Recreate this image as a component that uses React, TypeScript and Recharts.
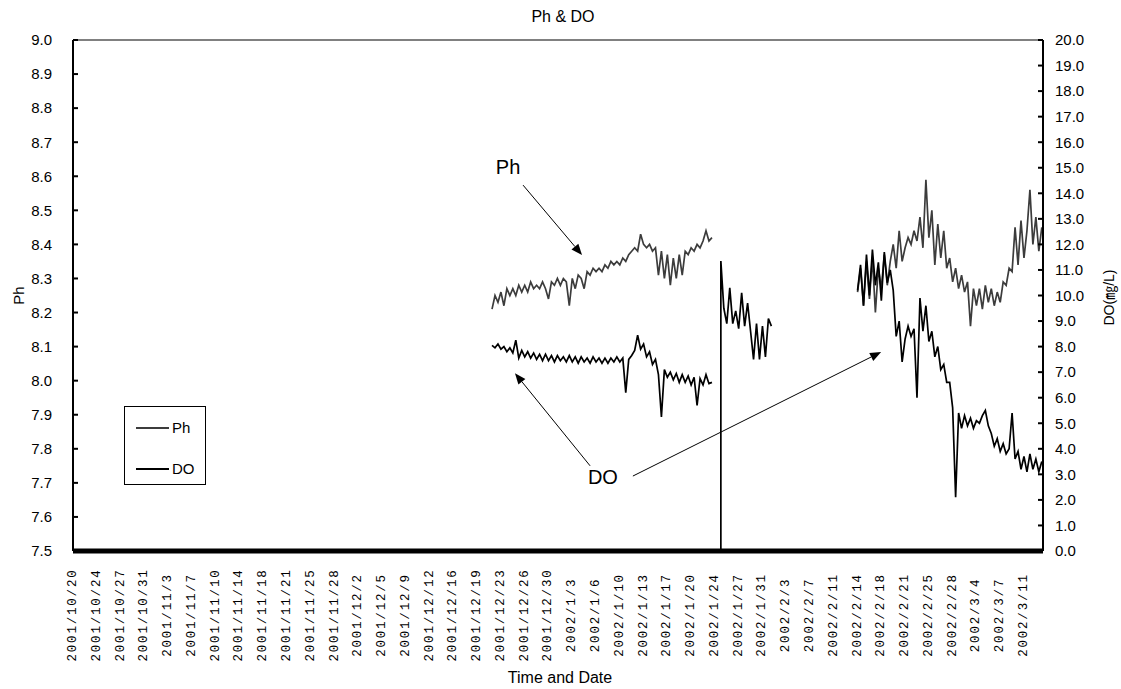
import React from 'react';
import { LineChart, Line, XAxis, YAxis, ReferenceLine, ReferenceDot, Legend } from 'recharts';

const FONT = "'Liberation Sans', Arial, 'Noto Sans CJK JP', sans-serif";

// ---- tick labels (category labels, evenly spaced) ----
const tickLabels = [
  '2001/10/20', '2001/10/24', '2001/10/27', '2001/10/31', '2001/11/3', '2001/11/7',
  '2001/11/10', '2001/11/14', '2001/11/18', '2001/11/21', '2001/11/25', '2001/11/28',
  '2001/12/2', '2001/12/5', '2001/12/9', '2001/12/12', '2001/12/16', '2001/12/19',
  '2001/12/23', '2001/12/26', '2001/12/30', '2002/1/3', '2002/1/6', '2002/1/10',
  '2002/1/13', '2002/1/17', '2002/1/20', '2002/1/24', '2002/1/27', '2002/1/31',
  '2002/2/3', '2002/2/7', '2002/2/11', '2002/2/14', '2002/2/18', '2002/2/21',
  '2002/2/25', '2002/2/28', '2002/3/4', '2002/3/7', '2002/3/11',
];
const phTicks = [7.5, 7.6, 7.7, 7.8, 7.9, 8.0, 8.1, 8.2, 8.3, 8.4, 8.5, 8.6, 8.7, 8.8, 8.9, 9.0];
const doTicks = [0, 1, 2, 3, 4, 5, 6, 7, 8, 9, 10, 11, 12, 13, 14, 15, 16, 17, 18, 19, 20];

// sample spacing, in label intervals
const STEP = 0.125;

// ---- segment 1 (late Dec - Jan 23) ----
const seg1Start = 17.625;
const phSeg1 = [
  8.21, 8.25, 8.23, 8.26, 8.22, 8.27, 8.25, 8.27, 8.25, 8.28,
  8.26, 8.28, 8.26, 8.29, 8.27, 8.28, 8.27, 8.29, 8.27, 8.24,
  8.29, 8.28, 8.30, 8.28, 8.30, 8.29, 8.22, 8.30, 8.27, 8.31,
  8.30, 8.27, 8.32, 8.31, 8.33, 8.32, 8.33, 8.32, 8.34, 8.33,
  8.35, 8.34, 8.35, 8.34, 8.36, 8.35, 8.37, 8.38, 8.39, 8.38,
  8.43, 8.40, 8.39, 8.40, 8.38, 8.39, 8.31, 8.38, 8.30, 8.37,
  8.28, 8.36, 8.30, 8.37, 8.31, 8.38, 8.37, 8.39, 8.38, 8.40,
  8.39, 8.41, 8.44, 8.41, 8.42,
];
const doSeg1 = [
  8.05, 7.95, 8.10, 7.90, 8.00, 7.80, 7.95, 7.75, 8.25, 7.55,
  7.85, 7.60, 7.80, 7.55, 7.75, 7.50, 7.70, 7.45, 7.70, 7.45,
  7.65, 7.40, 7.65, 7.45, 7.60, 7.40, 7.65, 7.40, 7.60, 7.35,
  7.60, 7.40, 7.55, 7.35, 7.60, 7.40, 7.55, 7.35, 7.55, 7.35,
  7.55, 7.40, 7.60, 7.40, 7.55, 6.20, 7.50, 7.65, 7.85, 8.45,
  7.90, 8.10, 7.60, 7.80, 7.30, 7.50, 6.90, 5.25, 7.10, 6.80,
  7.00, 6.70, 6.95, 6.60, 6.90, 6.60, 6.85, 6.50, 6.80, 5.70,
  6.75, 6.50, 6.90, 6.55, 6.60,
];

// ---- segment 2 (Jan 24 - Jan 31), DO only ----
const seg2Start = 27.25;
const doSeg2Lead = 0;
const doSeg2 = [
  11.35, 9.5, 8.9, 10.3, 8.9, 9.4, 8.7, 10.1, 8.8, 9.7,
  8.6, 7.5, 8.9, 7.5, 8.8, 7.6, 9.1, 8.8,
];

// ---- segment 3 (Feb 14 - Mar 14) ----
const seg3Start = 33.0;
const phSeg3 = [
  8.26, 8.33, 8.22, 8.35, 8.24, 8.36, 8.20, 8.33, 8.27, 8.37,
  8.28, 8.35, 8.40, 8.33, 8.44, 8.35, 8.39, 8.42, 8.40, 8.44,
  8.41, 8.48, 8.39, 8.59, 8.42, 8.50, 8.34, 8.46, 8.36, 8.44,
  8.33, 8.36, 8.29, 8.33, 8.27, 8.31, 8.26, 8.29, 8.16, 8.27,
  8.22, 8.27, 8.21, 8.28, 8.23, 8.27, 8.22, 8.26, 8.23, 8.29,
  8.28, 8.33, 8.32, 8.45, 8.34, 8.47, 8.36, 8.44, 8.56, 8.40,
  8.48, 8.38, 8.45,
];
const doSeg3 = [
  10.2, 11.2, 9.6, 11.6, 10.0, 11.8, 10.4, 11.3, 9.8, 11.7,
  10.5, 11.0, 10.2, 8.4, 9.0, 7.4, 8.3, 8.8, 8.4, 8.7,
  6.0, 9.9, 8.6, 9.6, 8.2, 8.6, 7.6, 8.0, 7.1, 7.3,
  6.6, 6.6, 5.6, 2.1, 5.4, 4.8, 5.3, 4.9, 5.2, 4.8,
  5.1, 5.0, 5.3, 5.5, 4.9, 4.6, 4.1, 4.4, 3.9, 4.2,
  3.8, 4.0, 5.4, 3.6, 3.9, 3.2, 3.7, 3.1, 3.8, 3.2,
  3.6, 3.1, 3.5,
];

// ---- annotations (data units: label index, pH) ----
const annotationTexts = [
  { text: 'Ph', x: 18.3, y: 8.627 },
  { text: 'DO', x: 22.29, y: 7.717 },
];
const annotationArrows = [
  { from: { x: 18.93, y: 8.574 }, to: { x: 21.41, y: 8.369 } },
  { from: { x: 21.75, y: 7.75 }, to: { x: 18.59, y: 8.022 } },
  { from: { x: 23.55, y: 7.72 }, to: { x: 33.99, y: 8.084 } },
];

const seriesInfo = [
  { key: 'ph', name: 'Ph', color: '#3c3c3c', axis: 'ph' },
  { key: 'dov', name: 'DO', color: '#000000', axis: 'do' },
];

type Row = { t: number; ph: number | null; dov: number | null };
const rows: Row[] = [];
phSeg1.forEach((v, i) => rows.push({ t: seg1Start + i * STEP, ph: v, dov: doSeg1[i] }));
rows.push({ t: 27.1, ph: null, dov: null });
rows.push({ t: seg2Start, ph: null, dov: doSeg2Lead });
doSeg2.forEach((v, i) => rows.push({ t: seg2Start + i * STEP, ph: null, dov: v }));
rows.push({ t: 31.0, ph: null, dov: null });
phSeg3.forEach((v, i) => rows.push({ t: seg3Start + i * STEP, ph: v, dov: doSeg3[i] }));

const tickPositions = tickLabels.map((_, i) => i);

const XTick = (props: any) => {
  const { x, y, payload } = props;
  const cy = y + 64;
  return (
    <text
      x={x}
      y={cy}
      transform={`rotate(-90 ${x} ${cy})`}
      textAnchor="middle"
      dominantBaseline="central"
      fontFamily="'Liberation Mono', 'DejaVu Sans Mono', monospace"
      fontSize={12.5}
      letterSpacing={1.8}
      fill="#000"
    >
      {tickLabels[payload.value]}
    </text>
  );
};

const Arrow = (p: any) => {
  const { x1, y1, x2, y2 } = p;
  const ang = Math.atan2(y2 - y1, x2 - x1);
  const L = 11;
  const W = 4.5;
  const c = Math.cos(ang);
  const s = Math.sin(ang);
  const bx = x2 - L * c;
  const by = y2 - L * s;
  const pts = `${x2},${y2} ${bx + W * s},${by - W * c} ${bx - W * s},${by + W * c}`;
  return (
    <g>
      <line x1={x1} y1={y1} x2={bx} y2={by} stroke="#000" strokeWidth={1} />
      <polygon points={pts} fill="#000" />
    </g>
  );
};

const LegendBox = () => {
  const items = seriesInfo;
  return (
    <div
      style={{
        width: 82,
        height: 79,
        boxSizing: 'border-box',
        border: '1px solid #000',
        background: '#fff',
        position: 'relative',
        fontFamily: FONT,
        fontSize: 15,
        color: '#000',
      }}
    >
      {items.map((it, i) => (
        <div
          key={it.key}
          style={{
            position: 'absolute',
            left: 11,
            top: i === 0 ? 12 : 53,
            height: 18,
            display: 'flex',
            alignItems: 'center',
            lineHeight: '18px',
          }}
        >
          <span style={{ display: 'inline-block', width: 33, height: 0, borderTop: `2px solid ${it.color}` }} />
          <span style={{ marginLeft: 3 }}>{it.name}</span>
        </div>
      ))}
    </div>
  );
};

export default function App() {
  return (
    <div style={{ position: 'absolute', left: 0, top: 0, width: 1121, height: 689, background: '#fff' }}>
      <LineChart width={1121} height={689} data={rows} margin={{ top: 40, right: 0, bottom: 0, left: 0 }}>
        <text x={563} y={16} textAnchor="middle" dominantBaseline="central" fontFamily={FONT} fontSize={16} fill="#000">
          Ph &amp; DO
        </text>
        <XAxis
          type="number"
          dataKey="t"
          domain={[0, 40.8]}
          ticks={tickPositions}
          interval={0}
          tick={XTick}
          tickLine={false}
          tickSize={0}
          tickMargin={0}
          axisLine={{ stroke: '#000', strokeWidth: 5 }}
          height={138}
          allowDataOverflow
          label={{
            content: (p: any) => (
              <text
                x={p.viewBox.x + p.viewBox.width / 2 + 2}
                y={p.viewBox.y + 126}
                textAnchor="middle"
                dominantBaseline="central"
                fontFamily={FONT}
                fontSize={16}
                fill="#000"
              >
                Time and Date
              </text>
            ),
          }}
        />
        <YAxis
          yAxisId="ph"
          orientation="left"
          domain={[7.5, 9.0]}
          ticks={phTicks}
          interval={0}
          width={73}
          tickSize={-5}
          tickMargin={26}
          allowDataOverflow
          axisLine={{ stroke: '#000', strokeWidth: 2 }}
          tickLine={{ stroke: '#000', strokeWidth: 2 }}
          tick={{ fill: '#000', fontSize: 15, fontFamily: FONT }}
          tickFormatter={(v: number) => v.toFixed(1)}
          label={{
            content: (p: any) => {
              const cx = p.viewBox.x + 18;
              const cy = p.viewBox.y + p.viewBox.height / 2;
              return (
                <text x={cx} y={cy} transform={`rotate(-90 ${cx} ${cy})`} textAnchor="middle" dominantBaseline="central" fontFamily={FONT} fontSize={15} fill="#000">
                  Ph
                </text>
              );
            },
          }}
        />
        <YAxis
          yAxisId="do"
          orientation="right"
          domain={[0, 20]}
          ticks={doTicks}
          interval={0}
          width={78}
          tickSize={-5}
          tickMargin={17}
          allowDataOverflow
          axisLine={{ stroke: '#000', strokeWidth: 2 }}
          tickLine={{ stroke: '#000', strokeWidth: 2 }}
          tick={{ fill: '#000', fontSize: 15, fontFamily: FONT }}
          tickFormatter={(v: number) => v.toFixed(1)}
          label={{
            content: (p: any) => {
              const cx = p.viewBox.x + 66;
              const cy = p.viewBox.y + p.viewBox.height / 2 + 2;
              return (
                <text x={cx} y={cy} transform={`rotate(-90 ${cx} ${cy})`} textAnchor="middle" dominantBaseline="central" fontFamily={FONT} fontSize={14} fill="#000">
                  DO(㎎/L)
                </text>
              );
            },
          }}
        />
        <ReferenceLine yAxisId="ph" y={9.0} stroke="#808080" strokeWidth={2} />
        {seriesInfo.map((s) => (
          <Line
            key={s.key}
            yAxisId={s.axis}
            type="linear"
            dataKey={s.key}
            name={s.name}
            stroke={s.color}
            strokeWidth={1.7}
            dot={false}
            activeDot={false}
            connectNulls={false}
            isAnimationActive={false}
          />
        ))}
        {annotationArrows.map((a, i) => (
          <ReferenceLine
            key={`arrow-${i}`}
            yAxisId="ph"
            segment={[a.from, a.to]}
            shape={Arrow}
            ifOverflow="visible"
          />
        ))}
        {annotationTexts.map((a, i) => (
          <ReferenceDot
            key={`txt-${i}`}
            yAxisId="ph"
            x={a.x}
            y={a.y}
            r={0}
            ifOverflow="visible"
            shape={(p: any) => (
              <text x={p.cx} y={p.cy} textAnchor="middle" dominantBaseline="central" fontFamily={FONT} fontSize={20} fill="#000">
                {a.text}
              </text>
            )}
          />
        ))}
        <Legend
          layout="vertical"
          align="center"
          verticalAlign="middle"
          content={LegendBox}
          wrapperStyle={{ position: 'absolute', left: 124, top: 406, width: 82, height: 79, right: 'auto', bottom: 'auto', margin: 0 }}
        />
      </LineChart>
    </div>
  );
}
